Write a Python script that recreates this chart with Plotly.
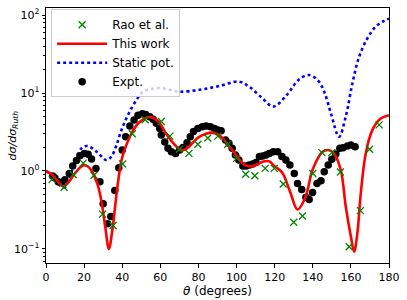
import plotly.graph_objects as go

# ---- data ----
theo_deg = [0, 3, 6, 9, 12, 15, 18, 20, 22, 24, 27, 29, 31, 33, 35, 37, 39, 40, 42, 44, 46, 48, 51, 53, 55,
            57, 60, 63, 66, 69, 71, 74, 77, 80, 84, 87, 90, 93, 96, 99, 102, 105, 108, 111, 114, 117, 120,
            124, 128, 132, 136, 140, 145, 148, 151, 154.7, 157.3, 160, 161.7, 163.4, 165.2, 167.8, 171.3,
            175.6, 180]
this_work = [1.0, 0.9, 0.75, 0.63, 0.73, 0.92, 1.12, 1.19, 1.14, 1.0, 0.68, 0.42, 0.2, 0.1, 0.19, 0.5, 1.15,
             1.5, 2.1, 2.75, 3.4, 4.0, 4.6, 4.85, 4.9, 4.7, 4.0, 3.0, 2.4, 2.0, 1.85, 1.95, 2.3, 2.7, 3.0,
             3.1, 2.95, 2.6, 2.1, 1.7, 1.35, 1.17, 1.15, 1.22, 1.32, 1.33, 1.15, 0.95, 0.55, 0.32, 0.45,
             1.05, 1.75, 1.86, 1.7, 1.03, 0.35, 0.144, 0.092, 0.16, 0.52, 1.68, 3.36, 4.7, 5.2]

static_deg = [0, 3, 6.4, 9.9, 13.4, 18.6, 21.8, 26.5, 31.7, 34.3, 37, 39.6, 43, 47.4, 50.9, 55, 59.6, 65,
              70.1, 80.6, 91, 101.2, 106.7, 113.7, 119.3, 126.3, 132.5, 137.8, 142.5, 146, 149.5, 153.8,
              157.3, 160.8, 164.3, 168.6, 173, 177.4, 180]
static_pot = [1.0, 0.88, 0.68, 0.62, 0.98, 1.95, 2.09, 1.77, 1.38, 1.53, 2.15, 3.36, 5.2, 8.1, 10.4, 11.2,
              11.6, 11.0, 10.4, 11.0, 12.3, 14.0, 12.0, 8.5, 6.7, 9.4, 14.7, 17.0, 14.7, 10.4, 5.5, 2.75,
              4.97, 13.3, 29, 50, 71, 84, 90]

rao_deg = [3.3, 9.5, 14.3, 19.5, 25.2, 29.7, 35.2, 40.2, 45.3, 52, 60.5, 65, 70, 75, 79.7, 84.9, 90.2,
           95.4, 100, 104.8, 109.6, 115, 119.8, 124.5, 130, 134.6, 140, 144.8, 150, 154.5, 159.1, 165,
           169.8, 174.8]
rao = [0.78, 0.62, 0.9, 1.26, 0.88, 0.28, 0.2, 1.23, 3.0, 4.55, 4.3, 2.8, 1.9, 1.68, 2.2, 2.65, 2.8, 2.2,
       1.45, 0.91, 0.87, 1.08, 1.08, 0.68, 0.22, 0.265, 0.93, 1.72, 1.72, 0.97, 0.107, 0.31, 1.9, 3.9]

expt_deg = [3.5, 4.7, 6.4, 8.2, 9.9, 12.2, 14.0, 16.0, 17.8, 20.1, 22.1, 23.9, 26.2, 28.3, 30.0, 32.3,
            34.0, 36.1, 38.2, 40.0, 41.8, 44.0, 46.2, 48.3, 50.6, 52.3, 54.4, 56.2, 57.9, 59.7, 60.5,
            62.3, 64.0, 65.8, 68.0, 70.1, 71.9, 74.0, 75.7, 77.4, 79.7, 82.0, 84.0, 86.3, 88.4, 90.2,
            91.9, 94.2, 96.0, 97.7, 99.4, 101.2, 103.3, 105.0, 106.7, 108.5, 110.2, 112.0, 113.7, 115.5,
            117.2, 119.3, 121.6, 123.8, 125.9, 128.0, 130.3, 132.0, 134.2, 136.4, 138.1, 139.9, 142.2,
            144.3, 146.0, 148.1, 150.0, 152.1, 154.2, 155.9, 158.2, 160.0, 162.2]
expt = [0.86, 0.81, 0.73, 0.71, 0.77, 0.93, 1.16, 1.36, 1.57, 1.68, 1.64, 1.42, 1.08, 0.73, 0.38, 0.21,
        0.26, 0.56, 1.1, 1.86, 2.75, 3.77, 4.5, 5.2, 5.4, 5.3, 4.97, 4.6, 4.1, 3.5, 2.9, 2.35, 1.95, 1.77,
        1.68, 1.86, 2.0, 2.3, 2.75, 3.2, 3.5, 3.7, 3.77, 3.7, 3.5, 3.36, 3.28, 2.5, 2.26, 1.95, 1.6, 1.38,
        1.16, 1.16, 1.19, 1.23, 1.28, 1.53, 1.56, 1.6, 1.68, 1.77, 1.77, 1.53, 1.38, 1.19, 0.93, 0.69,
        0.58, 0.46, 0.43, 0.53, 0.69, 0.75, 0.98, 1.19, 1.41, 1.65, 1.95, 1.99, 2.09, 2.15, 2.05]

x_ticks = [0, 20, 40, 60, 80, 100, 120, 140, 160, 180]
y_ticks = [0.1, 1, 10, 100]
y_tick_text = ["10<sup>\u22121</sup>", "10<sup>0</sup>", "10<sup>1</sup>", "10<sup>2</sup>"]
y_minor = [m * d for d in (0.01, 0.1, 1, 10) for m in range(2, 10)]

FONT = "DejaVu Sans, Verdana, sans-serif"

fig = go.Figure()

fig.add_trace(go.Scatter(
    x=static_deg, y=static_pot, mode="lines", name="Static pot.", legendrank=3,
    line=dict(color="blue", width=2.6, dash="dot", shape="spline")))

fig.add_trace(go.Scatter(
    x=expt_deg, y=expt, mode="markers", name="Expt.", legendrank=4,
    marker=dict(color="black", size=7.5, symbol="circle"),
    error_y=dict(type="percent", value=4, color="black", thickness=1, width=0)))

fig.add_trace(go.Scatter(
    x=theo_deg, y=this_work, mode="lines", name="This work", legendrank=2,
    line=dict(color="red", width=2.6, shape="spline")))

fig.add_trace(go.Scatter(
    x=rao_deg, y=rao, mode="markers", name="Rao et al.", legendrank=1,
    marker=dict(symbol="x-thin", size=7, color="green", line=dict(color="green", width=1.3))))

fig.update_layout(
    width=407, height=300,
    margin=dict(l=46, r=18, t=8, b=37),
    paper_bgcolor="white", plot_bgcolor="white",
    font=dict(family=FONT, size=11, color="black"),
    showlegend=True,
    legend=dict(
        x=0.015, y=0.995, xanchor="left", yanchor="top",
        bgcolor="rgba(255,255,255,0.8)", bordercolor="#cccccc", borderwidth=1,
        font=dict(family=FONT, size=12, color="black"),
        tracegroupgap=0, itemwidth=50,
    ),
    annotations=[dict(
        text="<i>d\u03c3/d\u03c3</i><sub><i>Ruth</i></sub>", textangle=-90,
        xref="paper", yref="paper", x=(12 - 46) / 343, y=0.5,
        xanchor="center", yanchor="middle", showarrow=False,
        font=dict(family=FONT, size=11, color="black"))],
)

fig.update_xaxes(
    range=[0, 180], tickvals=x_ticks, ticks="outside", ticklen=3.5, tickwidth=1,
    tickcolor="black", showline=True, linecolor="black", linewidth=1, mirror=True,
    showgrid=False, zeroline=False, automargin=False,
    title=dict(text="<i>\u03b8</i> (degrees)", font=dict(size=12), standoff=2),
)
fig.update_yaxes(
    type="log", range=[-1.18, 2.09], tickvals=y_ticks, ticktext=y_tick_text,
    ticks="outside", ticklen=3.5, tickwidth=1, tickcolor="black",
    showline=True, linecolor="black", linewidth=1, mirror=True,
    showgrid=False, zeroline=False, automargin=False,
    minor=dict(tickvals=y_minor, ticks="outside", ticklen=2, tickcolor="black", tickwidth=0.8),
)

fig.write_html("out.html", config={"displayModeBar": False},
               post_script="document.body.style.margin='0';document.body.style.overflow='hidden';")
